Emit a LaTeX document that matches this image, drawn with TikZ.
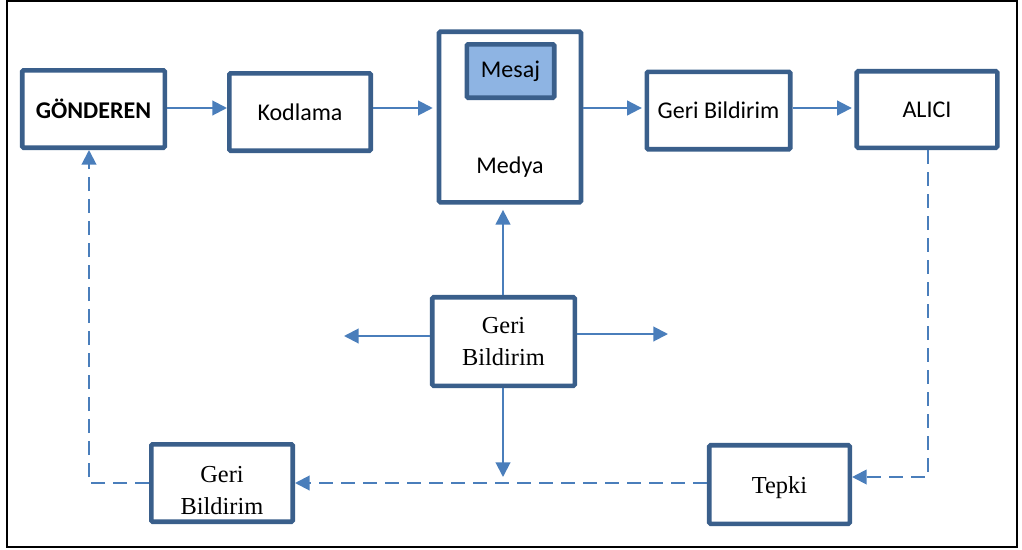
\documentclass[tikz,border=0pt]{standalone}
\usepackage{fontspec}
\setmainfont{Liberation Serif}
\newfontfamily\calibri{Carlito}
\usetikzlibrary{arrows.meta}

\definecolor{boxblue}{HTML}{3A5F8B}
\definecolor{linkblue}{HTML}{4A7EBB}
\definecolor{msgfill}{HTML}{8EB4E3}

\tikzset{
  box/.style={draw=boxblue, line width=3.4pt, rounded corners=1pt, fill=white,
    inner sep=0pt, align=center, font=\calibri\fontsize{18}{22}\selectfont},
  serifbox/.style={box, font=\fontsize{18.3}{24}\selectfont},
  seriftext/.style={inner sep=0pt, align=center, font=\fontsize{18.3}{24}\selectfont},
  link/.style={draw=linkblue, line width=1.5pt, -{Triangle[length=11pt,width=11pt]}},
  dlink/.style={link, dash pattern=on 10.5pt off 6pt},
}

\begin{document}
\begin{tikzpicture}[x=0.75pt, y=-0.75pt]
  \useasboundingbox (0,0) rectangle (1022,550);
  % outer frame
  \draw[black, line width=1.5pt] (7,1) rectangle (1017,547);

  % top row
  \node[box, minimum width=106.9pt, minimum height=58.1pt, font=\calibri\bfseries\fontsize{18}{22}\selectfont] (gond) at (93.5,109) {GÖNDEREN};
  \node[box, minimum width=106.1pt, minimum height=58.1pt] (kod) at (300,112) {Kodlama};
  \node[box, minimum width=106.5pt, minimum height=127.9pt] (medya) at (510,117) {};
  \node[box, fill=msgfill, minimum width=65.6pt, minimum height=40.1pt] (mesaj) at (510.5,71) {Mesaj};
  \node[font=\calibri\fontsize{18}{22}\selectfont, inner sep=0pt] (medyatxt) at (510,167) {Medya};
  \node[box, minimum width=107.6pt, minimum height=58.1pt] (gbtop) at (718.5,110.5) {Geri Bildirim};
  \node[box, minimum width=105.4pt, minimum height=57.4pt] (alici) at (927,109.5) {ALICI};

  % centre and bottom row
  \node[serifbox, minimum width=106.9pt, minimum height=66.4pt] (cgb) at (503.5,341.5) {Geri\\Bildirim};
  \node[serifbox, minimum width=106.1pt, minimum height=58.1pt,
        label={[seriftext, yshift=-6pt]center:{Geri\\Bildirim}}] (blgb) at (222,483) {};
  \node[serifbox, minimum width=105.4pt, minimum height=58.9pt,
        label={[seriftext, yshift=-2pt]center:Tepki}] (tepki) at (779.5,484.5) {};

  % helper points
  \coordinate (row) at (0,108);
  \coordinate (lrow) at (0,336);
  \coordinate (rrow) at (0,334);
  \coordinate (lefttip) at (344,336);
  \coordinate (righttip) at (668,334);
  \coordinate (downtip) at (503,477);
  \coordinate (cornerL) at (89,483);
  \coordinate (cornerR) at (928,477);

  % forward chain
  \draw[link] (gond.east |- row) -- (kod.west |- row);
  \draw[link, shorten >=3pt] (kod.east |- row) -- (medya.west |- row);
  \draw[link, shorten >=2pt] (medya.east |- row) -- (gbtop.west |- row);
  \draw[link, shorten >=2pt] (gbtop.east |- row) -- (alici.west |- row);

  % centre feedback arrows
  \draw[link, shorten >=4pt] (cgb.north -| downtip) -- (medya.south -| downtip);
  \draw[link] (cgb.west |- lrow) -- (lefttip);
  \draw[link] (cgb.east |- rrow) -- (righttip);
  \draw[link] (cgb.south -| downtip) -- (downtip);

  % dashed return loop
  \draw[dlink] (alici.south -| cornerR) -- (cornerR) -- (cornerR -| tepki.east);
  \draw[dlink] (tepki.west |- blgb.east) -- (blgb.east);
  \draw[dlink] (blgb.west) -- (cornerL) -- (cornerL |- gond.south);
\end{tikzpicture}
\end{document}
